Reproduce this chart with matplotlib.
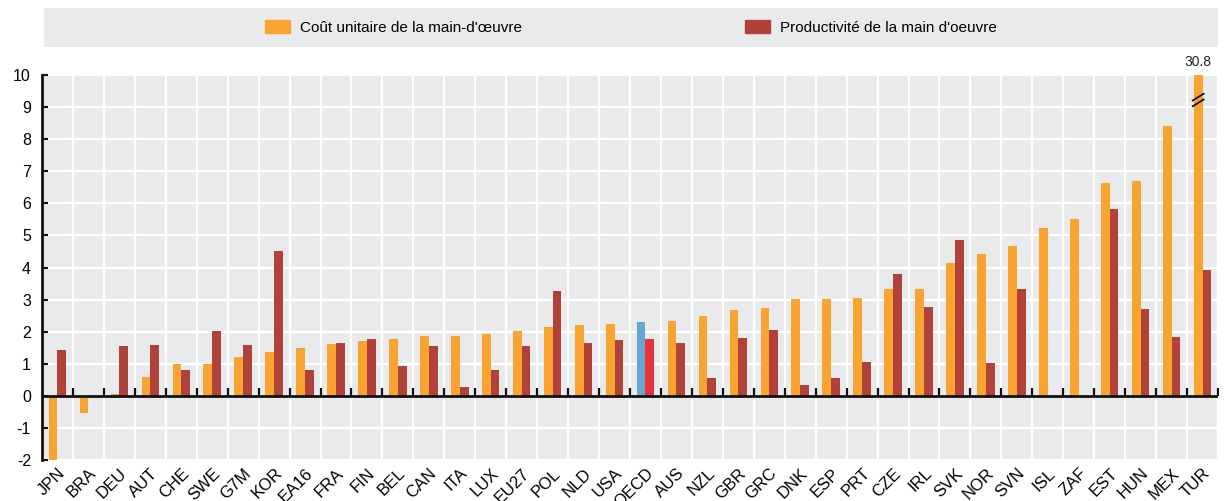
import matplotlib
matplotlib.use("Agg")
import matplotlib.pyplot as plt
import numpy as np
from matplotlib.patches import Patch
from matplotlib import font_manager

names = {f.name for f in font_manager.fontManager.ttflist}
FAM = ['Liberation Sans Narrow', 'Liberation Sans', 'DejaVu Sans'] if 'Liberation Sans Narrow' in names else ['Liberation Sans', 'DejaVu Sans']
plt.rcParams['font.family'] = FAM

countries = ["JPN", "BRA", "DEU", "AUT", "CHE", "SWE", "G7M", "KOR", "EA16", "FRA",
             "FIN", "BEL", "CAN", "ITA", "LUX", "EU27", "POL", "NLD", "USA", "OECD",
             "AUS", "NZL", "GBR", "GRC", "DNK", "ESP", "PRT", "CZE", "IRL", "SVK",
             "NOR", "SVN", "ISL", "ZAF", "EST", "HUN", "MEX", "TUR"]
ulc = [-2.0, -0.55, 0.05, 0.6, 0.98, 1.0, 1.2, 1.37, 1.48, 1.62,
       1.7, 1.78, 1.87, 1.87, 1.93, 2.02, 2.15, 2.2, 2.25, 2.3,
       2.34, 2.49, 2.67, 2.74, 3.01, 3.01, 3.04, 3.33, 3.33, 4.14,
       4.41, 4.67, 5.22, 5.51, 6.63, 6.7, 8.42, 30.8]
prod = [1.42, np.nan, 1.55, 1.58, 0.8, 2.03, 1.57, 4.5, 0.8, 1.65,
        1.78, 0.92, 1.56, 0.29, 0.8, 1.56, 3.26, 1.66, 1.75, 1.77,
        1.65, 0.55, 1.8, 2.05, 0.35, 0.57, 1.07, 3.79, 2.78, 4.85,
        1.02, 3.33, np.nan, np.nan, 5.81, 2.72, 1.84, 3.92]
yticks = list(range(-2, 11))
legend_labels = ["Coût unitaire de la main-d'œuvre", "Productivité de la main d'oeuvre"]

ORANGE = "#F9A431"
DARKRED = "#B0423A"
BLUE = "#67A6D1"
BRIGHTRED = "#E8333A"
BG = "#E9EAEC"

fig = plt.figure(figsize=(12.26, 5.01), dpi=100)
ax = fig.add_axes([42/1226, 1-460/501, (1218-42)/1226, (460-75)/501])
ax.set_facecolor(BG)

x = np.arange(len(countries))
w = 0.283
ymin, ymax = -2, 10
ulc_arr = np.array(ulc, dtype=float)
ulc_plot = np.clip(ulc_arr, ymin, ymax)
c1 = [BLUE if c == "OECD" else ORANGE for c in countries]
c2 = [BRIGHTRED if c == "OECD" else DARKRED for c in countries]
ax.bar(x - w/2, ulc_plot, width=w, color=c1, zorder=3)
ax.bar(x + w/2, prod, width=w, color=c2, zorder=3)

# broken-bar marker and value label for clipped bars
for i, v in enumerate(ulc_arr):
    if v > ymax:
        ax.annotate(f"{v:.1f}", (x[i] - w/2, ymax), xytext=(0, 4), textcoords="offset points",
                    ha="center", va="bottom", fontsize=10, color="#222222", annotation_clip=False)
        yb = ymax - 0.78
        for d in (-0.09, 0.09):
            ax.plot([x[i] - w/2 - 0.2, x[i] - w/2 + 0.2], [yb + d - 0.12, yb + d + 0.12],
                    color="#111111", lw=1.3, zorder=5, solid_capstyle="butt")

ax.set_ylim(ymin, ymax)
ax.set_xlim(-0.5, len(countries) - 0.5)
ax.set_yticks(yticks)
ax.set_yticklabels([str(t) for t in yticks], fontsize=11.5)
ax.set_xticks(np.arange(len(countries) + 1) - 0.5)
ax.set_xticklabels([])
ax.set_xticks(x, minor=True)
ax.set_xticklabels(countries, minor=True, rotation=45, ha="right", rotation_mode="anchor", fontsize=12)
ax.tick_params(axis="x", which="both", length=0, pad=4)
ax.tick_params(axis="y", direction="in", length=4, width=1.5, color="#111111", pad=8)
ax.grid(True, which="major", color="white", lw=1.6, zorder=1)
ax.set_axisbelow(True)
for s in ["top", "right", "bottom"]:
    ax.spines[s].set_visible(False)
ax.spines["left"].set_linewidth(2)
ax.spines["left"].set_color("#111111")
ax.axhline(0, color="#111111", lw=2, zorder=4)
bounds = np.arange(1, len(countries) + 1) - 0.5
ax.plot(bounds, np.zeros_like(bounds), ls="none", marker=2, ms=6, mew=1.6, color="#111111", zorder=4)

# legend box
lax = fig.add_axes([44/1226, 1-47/501, (1218-44)/1226, 39/501])
lax.set_facecolor(BG)
lax.set_xticks([]); lax.set_yticks([])
for s in lax.spines.values():
    s.set_visible(False)
handles = [Patch(color=ORANGE), Patch(color=DARKRED)]
lax.legend(handles, legend_labels, loc="center", ncol=2, frameon=False, fontsize=11,
           handlelength=1.63, handleheight=0.9, handletextpad=0.65, columnspacing=14.6,
           borderaxespad=0)

fig.savefig("out.png", dpi=100)
